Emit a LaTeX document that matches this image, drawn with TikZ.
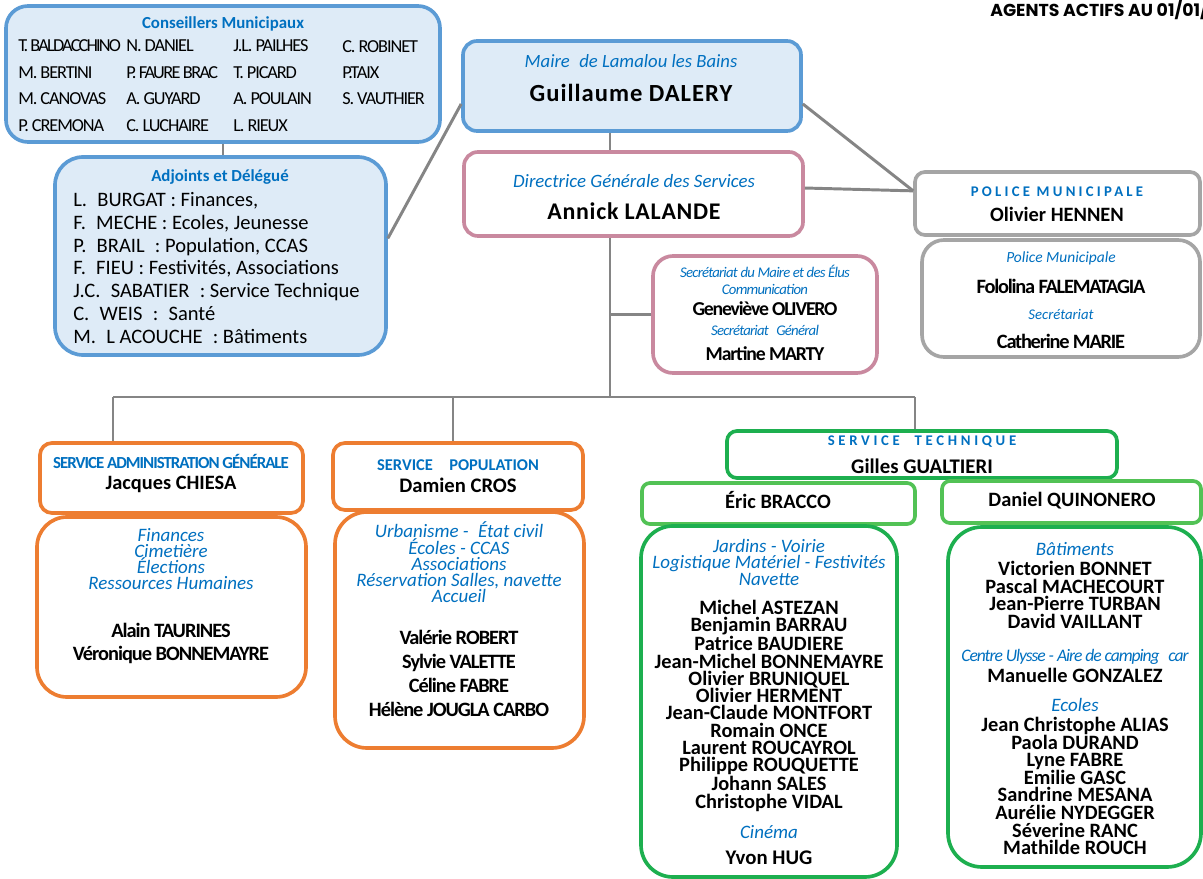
\documentclass[tikz,border=0pt]{standalone}
\usepackage{fontspec}
\setmainfont{Carlito}
\newfontfamily\headfont{Poppins}
\usetikzlibrary{fit}

\definecolor{bordblue}{HTML}{5B9BD5}
\definecolor{fillblue}{HTML}{DEEBF7}
\definecolor{bordpink}{HTML}{C9899F}
\definecolor{bordgrey}{HTML}{A5A5A5}
\definecolor{bordorange}{HTML}{ED7D31}
\definecolor{bordgreen}{HTML}{1DAF4F}
\definecolor{bordlight}{HTML}{52C255}
\definecolor{linegrey}{HTML}{858585}
\definecolor{roleblue}{HTML}{0070C0}

\newcommand{\fsz}[2]{\fontsize{#1}{#2}\selectfont}
\newcommand{\tight}[1]{\addfontfeature{LetterSpace=#1}}

\tikzset{
  box/.style={draw, line width=2.6pt, inner sep=0pt},
  bluebox/.style={box, draw=bordblue, fill=fillblue},
  pinkbox/.style={box, draw=bordpink, fill=white},
  greybox/.style={box, draw=bordgrey, fill=white},
  orangebox/.style={box, draw=bordorange, fill=white},
  greenbox/.style={box, draw=bordgreen, fill=white},
  lightbox/.style={box, draw=bordlight, fill=white},
  link/.style={draw=linegrey, line width=2.1pt},
  txt/.style={inner sep=0pt, anchor=base, align=center},
  role/.style={txt, text=roleblue},
  head/.style={txt, text=roleblue},
  who/.style={txt, text=black}
}

\begin{document}
\begin{tikzpicture}[x=0.025cm, y=-0.025cm]
  \useasboundingbox (0,0) rectangle (1203,879);
  \fill[white] (0,0) rectangle (1203,879);

  % boxes
  \node[bluebox, rounded corners=0.55cm, fit={(6,6) (440,142)}] (cons) {};
  \node[bluebox, rounded corners=0.7cm, fit={(55,157) (386,355)}] (adj) {};
  \node[bluebox, rounded corners=0.35cm, fit={(463,41) (801,131)}] (maire) {};
  \node[pinkbox, rounded corners=0.35cm, fit={(464,152) (803,236)}] (dgs) {};
  \node[greybox, rounded corners=0.25cm, fit={(915,172) (1200,235)}] (poltop) {};
  \node[greybox, rounded corners=0.55cm, fit={(922,240) (1200,357)}] (polbot) {};
  \node[pinkbox, rounded corners=0.5cm, fit={(653,256) (877,373)}] (secr) {};
  \node[orangebox, rounded corners=0.3cm, fit={(40,443) (303,513)}] (admtop) {};
  \node[orangebox, rounded corners=0.75cm, fit={(37,517) (306,697)}] (admbot) {};
  \node[orangebox, rounded corners=0.3cm, fit={(333,443) (583,510)}] (poptop) {};
  \node[orangebox, rounded corners=0.8cm, fit={(335,512) (584,748)}] (popbot) {};
  \node[greenbox, rounded corners=0.25cm, fit={(727,431) (1117,478)}] (techtop) {};
  \node[lightbox, rounded corners=0.2cm, fit={(642,483) (915,524)}] (bracco) {};
  \node[lightbox, rounded corners=0.2cm, fit={(942,481) (1201,523)}] (quino) {};
  \node[greenbox, rounded corners=0.8cm, fit={(641,526) (897,877)}] (bracbot) {};
  \node[greenbox, rounded corners=0.85cm, fit={(948,527) (1201,867)}] (quinbot) {};

  % connectors
  \coordinate (spine) at (610,397);
  \coordinate (barl) at (113,397);
  \coordinate (barm) at (453,397);
  \coordinate (barr) at (915,397);
  \draw[link] (cons.south) -- (cons.south |- adj.north);
  \draw[link] (adj.6) -- (maire.186);
  \draw[link] (maire.-6) -- (poltop.175);
  \draw[link] (dgs.2) -- (poltop.175);
  \draw[link] (maire.south -| spine) -- (dgs.north -| spine);
  \draw[link] (dgs.south -| spine) -- (spine);
  \draw[link] (secr.west) -- (secr.west -| spine);
  \draw[link] (barl) -- (barr);
  \draw[link] (barl) -- (barl |- admtop.north);
  \draw[link] (barm) -- (barm |- poptop.north);
  \draw[link] (barr) -- (barr |- techtop.north);

  % title
  \node[anchor=west, inner sep=0pt, font=\headfont\bfseries\fsz{12.3}{14}] (title) at (990,10) {AGENTS ACTIFS AU 01/01/};

  % conseillers (multi-line nodes sit on their last baseline)
  \node[head, font=\bfseries\fsz{12}{14}] (consT) at (223,28.4) {Conseillers Municipaux};
  \node[txt, anchor=base west, align=left, font=\fsz{13}{18.8}\tight{-6}] (col1) at (18,131.3)
    {{\tight{-10}T. BALDACCHINO}\\M. BERTINI\\M. CANOVAS\\P. CREMONA};
  \node[txt, anchor=base west, align=left, font=\fsz{13}{18.8}\tight{-6}] (col2) at (126,131.3)
    {N. DANIEL\\{\tight{-9}P. FAURE BRAC}\\A. GUYARD\\C. LUCHAIRE};
  \node[txt, anchor=base west, align=left, font=\fsz{13}{18.8}\tight{-6}] (col3) at (233,131.3)
    {J.L. PAILHES\\T. PICARD\\A. POULAIN\\L. RIEUX};
  \node[txt, anchor=base west, align=left, font=\fsz{13}{18.8}\tight{-6}] (col4) at (342,104.9)
    {C. ROBINET\\P.TAIX\\S. VAUTHIER};

  % adjoints
  \node[head, font=\bfseries\fsz{12}{14}] (adjT) at (220,181.4) {Adjoints et Délégué};
  \node[txt, anchor=base west, align=left, font=\fsz{14.6}{16.2}] (adjL) at (73,343.3)
    {L.\enspace BURGAT : Finances,\\F.\enspace MECHE : Ecoles, Jeunesse\\P.\enspace BRAIL\enspace: Population, CCAS\\
     F.\enspace FIEU : Festivités, Associations\\J.C.\enspace SABATIER\enspace : Service Technique\\
     C.\enspace WEIS\enspace :\enspace Santé\\M.\enspace L ACOUCHE\enspace : Bâtiments};

  % maire and DGS
  \node[role, font=\itshape\fsz{13.3}{15}] (maireR) at (631,68) {Maire\enspace de Lamalou les Bains};
  \node[who, font=\bfseries\fsz{17.5}{20}\tight{4}] (maireN) at (631,102) {Guillaume DALERY};
  \node[role, font=\itshape\fsz{13.4}{15}] (dgsR) at (634,188) {Directrice Générale des Services};
  \node[who, font=\bfseries\fsz{17}{20}\tight{3}] (dgsN) at (634,220) {Annick LALANDE};

  % police
  \node[head, font=\bfseries\fsz{10.5}{12}\tight{22}] (polT) at (1057,196.7) {POLICE MUNICIPALE};
  \node[who, font=\bfseries\fsz{14.5}{16}] (polN) at (1057,221.5) {Olivier HENNEN};
  \node[role, font=\itshape\fsz{11}{13}] (polR1) at (1061,263) {Police Municipale};
  \node[who, font=\bfseries\fsz{14.5}{16}\tight{-6}] (polN1) at (1061,293.5) {Fololina FALEMATAGIA};
  \node[role, font=\itshape\fsz{10.5}{12}] (polR2) at (1061,319.7) {Secrétariat};
  \node[who, font=\bfseries\fsz{14.5}{16}\tight{-6}] (polN2) at (1061,348.5) {Catherine MARIE};

  % secretariat
  \node[role, font=\itshape\fsz{10.5}{12}\tight{-5}] (secR1) at (765,294.6) {Secrétariat du Maire et des Élus\\Communication};
  \node[who, font=\bfseries\fsz{14}{16}\tight{-6}] (secN1) at (765,315.3) {Geneviève OLIVERO};
  \node[role, font=\itshape\fsz{10.5}{12}\tight{-5}] (secR2) at (765,335.7) {Secrétariat\enspace Général};
  \node[who, font=\bfseries\fsz{14}{16}\tight{-6}] (secN2) at (765,360.3) {Martine MARTY};

  % administration
  \node[head, font=\bfseries\fsz{12}{14}\tight{-6}] (admT) at (171,468.4) {SERVICE ADMINISTRATION GÉNÉRALE};
  \node[who, font=\bfseries\fsz{14.5}{16}] (admN) at (171,489.5) {Jacques CHIESA};
  \node[role, font=\itshape\fsz{13.5}{11.4}] (admR) at (171,589.1) {Finances\\Cimetière\\Élections\\Ressources Humaines};
  \node[who, font=\bfseries\fsz{14.5}{16.4}\tight{-5}] (admL) at (171,660.6) {Alain TAURINES\\Véronique BONNEMAYRE};

  % population
  \node[head, font=\bfseries\fsz{11.7}{14}] (popT) at (458,470.3) {SERVICE\quad POPULATION};
  \node[who, font=\bfseries\fsz{14.7}{16}] (popN) at (458,492.6) {Damien CROS};
  \node[role, font=\itshape\fsz{13.5}{11.4}] (popR) at (459,602.1)
    {Urbanisme -\enspace État civil\\Écoles - CCAS\\Associations\\Réservation Salles, navette\\Accueil};
  \node[who, font=\bfseries\fsz{14.5}{17.06}\tight{-5}] (popL) at (459,716.5)
    {Valérie ROBERT\\Sylvie VALETTE\\Céline FABRE\\Hélène JOUGLA CARBO};

  % technique
  \node[head, font=\bfseries\fsz{10.5}{12}\tight{25}] (techT) at (922,445.7) {SERVICE\quad TECHNIQUE};
  \node[who, font=\bfseries\fsz{14.8}{16}] (techN) at (922,473.7) {Gilles GUALTIERI};
  \node[who, font=\bfseries\fsz{14.5}{16}] (bracN) at (778,508.5) {Éric BRACCO};
  \node[who, font=\bfseries\fsz{14.5}{16}] (quinN) at (1072,506.5) {Daniel QUINONERO};

  \node[role, font=\itshape\fsz{13.5}{11.4}] (bracR) at (769,585)
    {Jardins - Voirie\\Logistique Matériel - Festivités\\Navette};
  \node[who, font=\bfseries\fsz{14.5}{12.3}] (bracL) at (769,808)
    {Michel ASTEZAN\\Benjamin BARRAU\\Patrice BAUDIERE\\Jean-Michel BONNEMAYRE\\Olivier BRUNIQUEL\\Olivier HERMENT\\
     Jean-Claude MONTFORT\\Romain ONCE\\Laurent ROUCAYROL\\Philippe ROUQUETTE\\Johann SALES\\Christophe VIDAL};
  \node[role, font=\itshape\fsz{13.5}{15}] (cineR) at (769,838) {Cinéma};
  \node[who, font=\bfseries\fsz{14.8}{16}] (cineN) at (769,864.7) {Yvon HUG};

  \node[role, font=\itshape\fsz{13.5}{15}] (batR) at (1075,555) {Bâtiments};
  \node[who, font=\bfseries\fsz{14.5}{12.5}] (batL) at (1075,628.3)
    {Victorien BONNET\\Pascal MACHECOURT\\Jean-Pierre TURBAN\\David VAILLANT};
  \node[role, font=\itshape\fsz{12.5}{14}\tight{-6}] (ulyR) at (1075,661.6) {Centre Ulysse - Aire de camping\enspace car};
  \node[who, font=\bfseries\fsz{14.5}{16}] (ulyN) at (1075,682.5) {Manuelle GONZALEZ};
  \node[role, font=\itshape\fsz{13.5}{15}] (ecoR) at (1075,711) {Ecoles};
  \node[who, font=\bfseries\fsz{14.5}{12.5}] (ecoL) at (1075,854.7)
    {Jean Christophe ALIAS\\Paola DURAND\\Lyne FABRE\\Emilie GASC\\Sandrine MESANA\\Aurélie NYDEGGER\\Séverine RANC\\Mathilde ROUCH};
\end{tikzpicture}
\end{document}
